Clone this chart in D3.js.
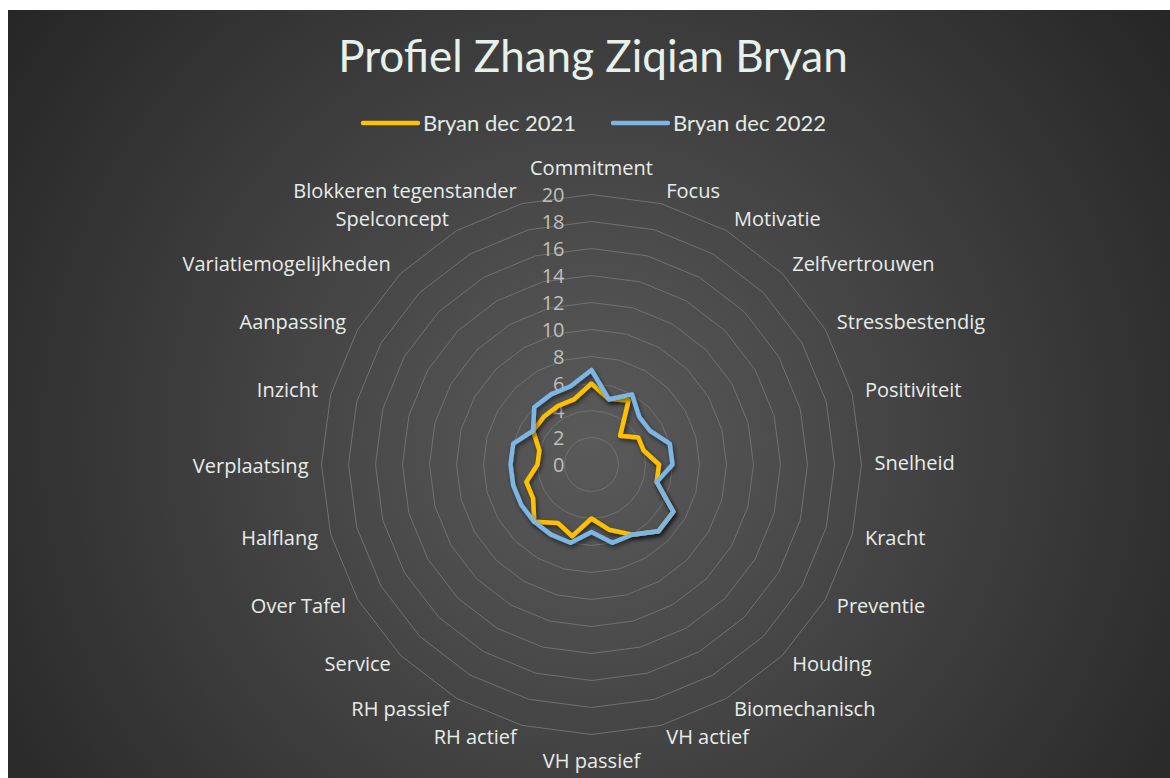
<!DOCTYPE html>
<html>
<head>
<meta charset="utf-8">
<script src="https://cdn.jsdelivr.net/npm/d3@7"></script>
<style>
  html, body { margin: 0; padding: 0; background: #ffffff; }
  svg { display: block; }
</style>
</head>
<body>
<svg id="chart" width="1170" height="778"></svg>
<script>
const categories = ["Commitment", "Focus", "Motivatie", "Zelfvertrouwen", "Stressbestendig", "Positiviteit",
  "Snelheid", "Kracht", "Preventie", "Houding", "Biomechanisch", "VH actief", "VH passief", "RH actief",
  "RH passief", "Service", "Over Tafel", "Halflang", "Verplaatsing", "Inzicht", "Aanpassing",
  "Variatiemogelijkheden", "Spelconcept", "Blokkeren tegenstander"];
const bryan2021 = [6, 5, 5.5, 3, 4, 4, 5, 5, 7, 7, 6, 5, 4, 5.5, 5, 6, 5, 5, 4, 4, 5, 5, 5, 5];
const bryan2022 = [7, 5, 6, 5, 5, 6, 6, 5, 7, 7, 6, 6, 5, 6, 6, 6, 6, 6, 6, 6, 5, 6, 6, 6];
const seriesNames = ["Bryan dec 2021", "Bryan dec 2022"];
const tickValues = [0, 2, 4, 6, 8, 10, 12, 14, 16, 18, 20];
const titleText = "Profiel Zhang Ziqian Bryan";

const svg = d3.select("#chart");
const W = 1170, H = 778;
const cx = 591.5, cy = 464.5, R = 270;
const FONT_T = "Lato, 'Noto Sans', sans-serif";
const FONT_L = "'Open Sans', 'Noto Sans', sans-serif";

const defs = svg.append("defs");
const grad = defs.append("radialGradient").attr("id", "bg")
  .attr("gradientUnits", "userSpaceOnUse")
  .attr("cx", 590).attr("cy", 440).attr("r", 720);
grad.append("stop").attr("offset", 0).attr("stop-color", "#5a5a5a");
grad.append("stop").attr("offset", 1).attr("stop-color", "#262626");
const shadow = defs.append("filter").attr("id", "shadow")
  .attr("x", "-20%").attr("y", "-20%").attr("width", "140%").attr("height", "140%");
shadow.append("feDropShadow").attr("dx", 1.5).attr("dy", 2.5).attr("stdDeviation", 2)
  .attr("flood-color", "#000").attr("flood-opacity", 0.55);

svg.append("rect").attr("x", 0).attr("y", 0).attr("width", W).attr("height", H).attr("fill", "#ffffff");
svg.append("rect").attr("x", 8).attr("y", 10).attr("width", W - 8).attr("height", H - 10).attr("fill", "url(#bg)");

const n = categories.length;
const angle = d3.scaleLinear().domain([0, n]).range([0, 2 * Math.PI]);
const r = d3.scaleLinear().domain([0, 20]).range([0, R]);

const g = svg.append("g").attr("transform", `translate(${cx},${cy})`);

// grid rings
const ringLine = d3.lineRadial().angle((d, i) => angle(i)).radius(d => r(d)).curve(d3.curveLinearClosed);
g.append("g").selectAll("path").data(tickValues.filter(v => v > 0)).join("path")
  .attr("d", v => ringLine(d3.range(n).map(() => v)))
  .attr("fill", "none").attr("stroke", "#717171").attr("stroke-width", 1);

// tick labels
g.append("g").selectAll("text").data(tickValues).join("text")
  .attr("x", -27).attr("y", v => -r(v)).attr("dy", "0.35em")
  .attr("text-anchor", "end").attr("font-family", FONT_L).attr("font-size", 20)
  .attr("fill", "#bfbfbf").text(v => v);

// category labels
const LR = 281;
g.append("g").selectAll("text").data(categories).join("text")
  .each(function (d, i) {
    const a = angle(i);
    const s = Math.sin(a), c = Math.cos(a);
    let x = LR * s, y = -LR * c;
    let anchor = "start";
    if (Math.abs(s) < 0.01) { anchor = "middle"; y += c > 0 ? -16 : 15; }
    else if (s < 0) anchor = "end";
    if (Math.abs(s) >= 0.01) y += c > 0 ? -2 : 1;
    d3.select(this).attr("x", x + (anchor === "start" ? 2 : anchor === "end" ? -2 : 0)).attr("y", y)
      .attr("dy", "0.35em").attr("text-anchor", anchor);
  })
  .attr("font-family", FONT_L).attr("font-size", 20).attr("fill", "#e8ece9").text(d => d);

// series
const line = d3.lineRadial().angle((d, i) => angle(i)).radius(d => r(d)).curve(d3.curveLinearClosed);
const colors = ["#FFC000", "#7DB5E3"];
[bryan2021, bryan2022].forEach((vals, k) => {
  g.append("path").attr("d", line(vals)).attr("fill", "none")
    .attr("stroke", colors[k]).attr("stroke-width", 4.5).attr("stroke-linejoin", "round")
    .attr("filter", "url(#shadow)");
});

// title
svg.append("text").attr("x", 593).attr("y", 72).attr("text-anchor", "middle")
  .attr("font-family", FONT_T).attr("font-size", 44).attr("fill", "#e6f1ec")
  .text(titleText);

// legend
const legendX = [363, 613];
seriesNames.forEach((name, k) => {
  svg.append("line").attr("x1", legendX[k]).attr("x2", legendX[k] + 55).attr("y1", 123).attr("y2", 123)
    .attr("stroke", colors[k]).attr("stroke-width", 4.5).attr("stroke-linecap", "round");
  svg.append("text").attr("x", legendX[k] + 60).attr("y", 123).attr("dy", "0.35em")
    .attr("font-family", FONT_T).attr("font-size", 22).attr("fill", "#e3ebe7").text(name);
});
</script>
</body>
</html>
